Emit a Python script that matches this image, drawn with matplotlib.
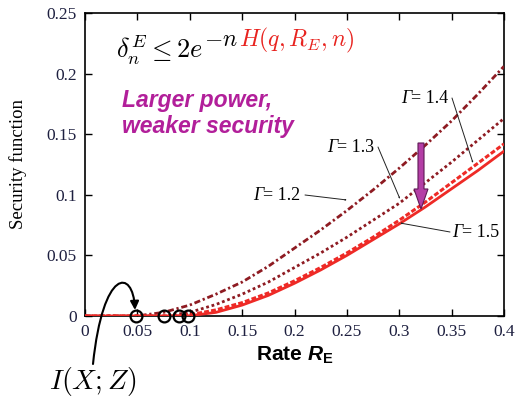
import matplotlib
matplotlib.use("Agg")
import matplotlib.pyplot as plt
from matplotlib.patches import FancyArrow, FancyArrowPatch
from matplotlib.path import Path

# ---- data ----
rate_g12 = [0, 0.049, 0.075, 0.1, 0.125, 0.15, 0.175, 0.2, 0.225, 0.25, 0.275, 0.3, 0.325, 0.35, 0.375, 0.4]
sec_g12 = [0, 0, 0.003, 0.009, 0.018, 0.028, 0.041, 0.056, 0.071, 0.087, 0.104, 0.122, 0.141, 0.161, 0.183, 0.206]

rate_g13 = [0, 0.0755, 0.1, 0.125, 0.15, 0.175, 0.2, 0.225, 0.25, 0.275, 0.3, 0.325, 0.35, 0.375, 0.4]
sec_g13 = [0, 0, 0.003, 0.0095, 0.018, 0.028, 0.040, 0.052, 0.065, 0.079, 0.093, 0.110, 0.127, 0.145, 0.163]

rate_g14 = [0, 0.0897, 0.1, 0.125, 0.15, 0.175, 0.2, 0.225, 0.25, 0.275, 0.3, 0.325, 0.35, 0.375, 0.4]
sec_g14 = [0, 0, 0.001, 0.005, 0.011, 0.019, 0.029, 0.040, 0.052, 0.065, 0.079, 0.094, 0.110, 0.126, 0.142]

rate_g15 = [0, 0.098, 0.125, 0.15, 0.175, 0.2, 0.225, 0.25, 0.275, 0.3, 0.325, 0.35, 0.375, 0.4]
sec_g15 = [0, 0, 0.003, 0.009, 0.017, 0.027, 0.038, 0.050, 0.063, 0.076, 0.090, 0.105, 0.120, 0.136]

mutual_info = [0.049, 0.0755, 0.0897, 0.098]

xticks = [0, 0.05, 0.1, 0.15, 0.2, 0.25, 0.3, 0.35, 0.4]
xticklabels = ["0", "0.05", "0.1", "0.15", "0.2", "0.25", "0.3", "0.35", "0.4"]
yticks = [0, 0.05, 0.1, 0.15, 0.2, 0.25]
yticklabels = ["0", "0.05", "0.1", "0.15", "0.2", "0.25"]

gamma_values = ["1.2", "1.3", "1.4", "1.5"]

# ---- style ----
plt.rcParams['mathtext.fontset'] = 'custom'
plt.rcParams['mathtext.rm'] = 'Liberation Sans:bold'
plt.rcParams['mathtext.it'] = 'Liberation Sans:italic:bold'
plt.rcParams['mathtext.bf'] = 'Liberation Sans:bold'

W, H = 516, 399
fig = plt.figure(figsize=(W / 100, H / 100), dpi=100)
ax = fig.add_axes([85 / W, 1 - 316 / H, 419 / W, 303 / H])


def fp(px, py):
    return (px / W, 1 - py / H)


dark = '#8e1b22'
red = '#ee2a26'
ax.plot(rate_g12, sec_g12, color=dark, lw=2.0, ls=(0, (2.2, 1.0, 0.8, 1.0)), zorder=3)
ax.plot(rate_g13, sec_g13, color=dark, lw=2.0, ls=(0, (1.0, 1.0)), zorder=3)
ax.plot(rate_g14, sec_g14, color=red, lw=2.2, ls=(0, (1.6, 0.7)), zorder=3)
ax.plot(rate_g15, sec_g15, color=red, lw=2.0, ls='-', zorder=3)
ax.plot(mutual_info, [0] * len(mutual_info), 'o', ms=8.5, mfc='none', mec='black',
        mew=1.6, clip_on=False, zorder=5)

ax.set_xlim(0, 0.4)
ax.set_ylim(0, 0.25)
ax.set_xticks(xticks)
ax.set_xticklabels(xticklabels)
ax.set_yticks(yticks)
ax.set_yticklabels(yticklabels)
tick_col = '#1e2040'
ax.tick_params(direction='in', length=5, width=1, top=True, right=True,
               labelsize=12.5, colors='black', labelcolor=tick_col, pad=6)
for lab in ax.get_xticklabels() + ax.get_yticklabels():
    lab.set_fontfamily('Liberation Serif')
for s in ax.spines.values():
    s.set_linewidth(1.2)

# axis labels
fig.text(*fp(18, 164), "Security function", rotation=90, ha='center', va='center',
         family='Liberation Serif', fontsize=13.5)
fig.text(*fp(295, 355), r"Rate $R_{\mathrm{E}}$", ha='center', va='center',
         family='Liberation Sans', fontweight='bold', fontsize=15)

# formula (black base + exponent, red H part)
t1 = fig.text(*fp(116, 58), r"$\delta_n^E \leq 2e$", ha='left', va='baseline',
              fontsize=19, math_fontfamily='cm', color='black')

# Gamma labels (italic Gamma + regular rest)
lab_kw = dict(family='Liberation Serif', fontsize=13, va='baseline', ha='left')
arr_kw = dict(arrowstyle='->,head_length=0.6,head_width=0.25', color='#222222', lw=0.7,
              shrinkA=0, shrinkB=0)
label_pos = [(253, 200), (327, 152), (401, 103), (452, 237)]
arrow_pos = [((305, 195), (347, 200)), ((378, 147), (400, 199)),
             ((452, 98), (473, 163)), ((450, 232), (400, 223))]
gtexts = []
for (tx, ty) in label_pos:
    gtexts.append(fig.text(*fp(tx, ty), "Γ", fontstyle='italic', **lab_kw))

fig.canvas.draw()
bb = t1.get_window_extent()
t2 = fig.text((bb.x1 + 1) / W, 1 - 46 / H, r"$-n$", ha='left', va='baseline',
              fontsize=17, math_fontfamily='cm', color='black')
for g, val, (tx, ty) in zip(gtexts, gamma_values, label_pos):
    gb = g.get_window_extent()
    fig.text(gb.x1 / W, 1 - ty / H, "= " + val, **lab_kw)
fig.canvas.draw()
bb2 = t2.get_window_extent()
fig.text((bb2.x1 + 1) / W, 1 - 46 / H, r"$H(q,R_E,n)$", ha='left', va='baseline',
         fontsize=17, math_fontfamily='cm', color='#e8231f')

for a0, a1 in arrow_pos:
    fig.patches.append(FancyArrowPatch(fp(*a0), fp(*a1), transform=fig.transFigure, **arr_kw))

# magenta text
fig.text(*fp(122, 133), "Larger power,\nweaker security", ha='left', va='baseline',
         family='Liberation Sans', fontweight='bold', fontstyle='italic', fontsize=16.5,
         color='#b21f9a', linespacing=1.15)

# I(X;Z)
fig.text(*fp(93, 382), r"$I(X;Z)$", ha='center', va='center', fontsize=20,
         math_fontfamily='cm')
verts = [fp(93, 364), fp(103, 268), fp(133, 268), fp(135, 310)]
path = Path(verts, [Path.MOVETO, Path.CURVE4, Path.CURVE4, Path.CURVE4])
fig.patches.append(FancyArrowPatch(path=path, arrowstyle='-|>,head_length=5,head_width=2.5',
                                   color='black', lw=1.5, transform=fig.transFigure))

# magenta arrow
x0, y0 = fp(421, 143)
x1, y1 = fp(421, 209)
fig.patches.append(FancyArrow(x0, y0, 0, y1 - y0, width=6 / W, head_width=14 / W,
                              head_length=20 / H, length_includes_head=True,
                              transform=fig.transFigure, facecolor='#b43ea6',
                              edgecolor='#5e1a55', lw=0.8, zorder=6))

fig.savefig("out.png", dpi=100)
